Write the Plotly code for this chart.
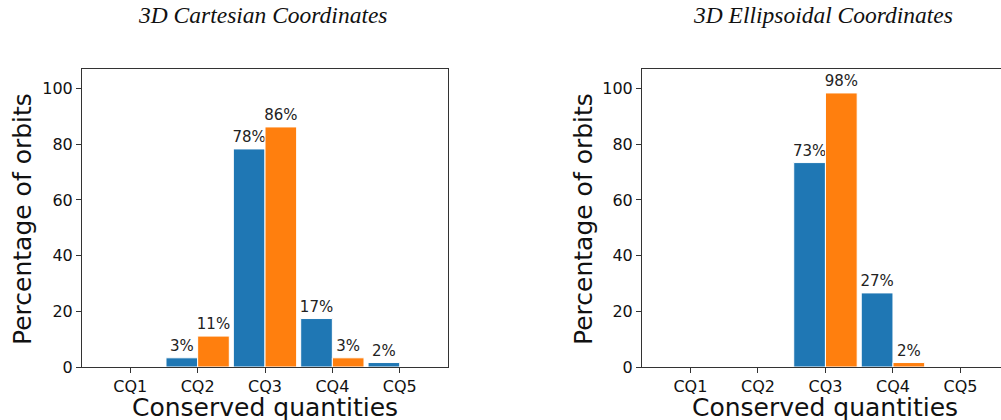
import plotly.graph_objects as go

categories = ["CQ1", "CQ2", "CQ3", "CQ4", "CQ5"]
cart_blue = [0, 3.3, 78.3, 17.4, 1.6]
cart_orange = [0, 11.1, 86.2, 3.3, 0]
ell_blue = [0, 0, 73.4, 26.6, 0]
ell_orange = [0, 0, 98.4, 1.6, 0]
titles = ["3D Cartesian Coordinates", "3D Ellipsoidal Coordinates"]
x_title = "Conserved quantities"
y_title = "Percentage of orbits"
y_ticks = [0, 20, 40, 60, 80, 100]

BLUE = "#1f77b4"
ORANGE = "#ff7f0e"
W = 0.47
FW, FH = 1001, 420


def labels(vals):
    return [f"{v:.0f}%" if v > 0 else "" for v in vals]


fig = go.Figure()
for i, (b, o) in enumerate([(cart_blue, cart_orange), (ell_blue, ell_orange)]):
    xa = "x" if i == 0 else "x2"
    ya = "y" if i == 0 else "y2"
    for vals, col, off in [(b, BLUE, -W), (o, ORANGE, 0)]:
        fig.add_trace(go.Bar(
            x=categories, y=vals, xaxis=xa, yaxis=ya,
            width=W, offset=off,
            marker=dict(color=col, line=dict(color="white", width=1)),
            text=labels(vals), textposition="outside",
            textfont=dict(size=15, color="#222222", family="DejaVu Sans"),
            constraintext="none", cliponaxis=False,
            showlegend=False, hoverinfo="skip",
        ))

ydom = [1 - 367 / FH, 1 - 69 / FH]
axis_common = dict(
    showline=True, linecolor="#333333", linewidth=1, ticks="outside",
    ticklen=5, tickcolor="#333333", showgrid=False, zeroline=False,
    automargin=False,
    tickfont=dict(size=16, family="DejaVu Sans", color="#111111"),
)

fig.update_layout(
    width=FW, height=FH,
    margin=dict(l=0, r=0, t=0, b=0, autoexpand=False),
    plot_bgcolor="white", paper_bgcolor="white",
    barmode="overlay",
    font=dict(family="DejaVu Sans", color="#111111"),
    xaxis=dict(domain=[82 / FW, 448 / FW], anchor="y", range=[-0.717, 4.717],
               mirror=True, type="category", **axis_common),
    yaxis=dict(domain=ydom, anchor="x", range=[0, 107], tickvals=y_ticks,
               mirror=True, **axis_common),
    xaxis2=dict(domain=[642 / FW, 1.0], anchor="y2", range=[-0.717, 4.6],
                mirror=True, type="category", **axis_common),
    yaxis2=dict(domain=ydom, anchor="x2", range=[0, 107], tickvals=y_ticks,
                mirror=False, **axis_common),
)

title_x = [262.5, 822.5]
xlab_x = [265, 825]
ylab_x = [22, 583]
for tx, xx, yx, t in zip(title_x, xlab_x, ylab_x, titles):
    fig.add_annotation(
        x=tx / FW, y=1 - 15 / FH, xref="paper", yref="paper",
        text=f"<i>{t}</i>", showarrow=False, xanchor="center", yanchor="middle",
        font=dict(family="Liberation Serif", size=23.5, color="#111111"),
    )
    fig.add_annotation(
        x=xx / FW, y=1 - 407 / FH, xref="paper", yref="paper",
        text=x_title, showarrow=False, xanchor="center", yanchor="middle",
        font=dict(family="DejaVu Sans", size=25, color="#111111"),
    )
    fig.add_annotation(
        x=yx / FW, y=1 - 219 / FH, xref="paper", yref="paper",
        text=y_title, showarrow=False, xanchor="center", yanchor="middle",
        textangle=-90,
        font=dict(family="DejaVu Sans", size=25, color="#111111"),
    )

fig.write_html("out.html", config={"displayModeBar": False},
               post_script="document.body.style.margin='0';")
